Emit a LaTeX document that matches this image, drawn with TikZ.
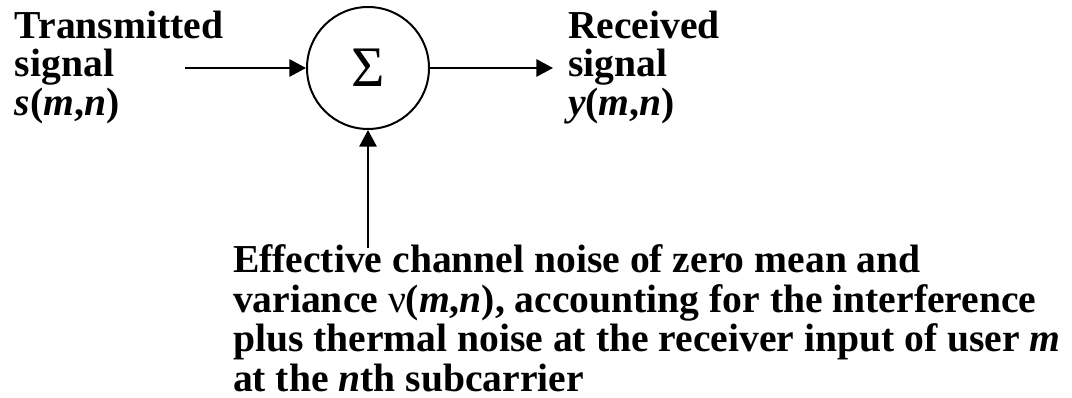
\documentclass[tikz,border=0pt]{standalone}
\usepackage{fontspec}
\setmainfont{Liberation Serif}
\usepackage{tikz}
\usetikzlibrary{positioning,arrows.meta}

\begin{document}
\begin{tikzpicture}[x=0.75pt,y=0.75pt,
  line width=1.5pt,
  every node/.style={font=\bfseries\fontsize{29.7}{28.9}\selectfont},
  adder/.style={circle,draw,minimum size=91.5pt,inner sep=0pt},
  sigtext/.style={align=left,inner sep=0pt,anchor=north west},
  sigarrow/.style={-{Triangle[length=12.5pt,width=13pt]}}]
  \useasboundingbox (0,0) rectangle (1072,398);
  \node[adder] (sum) at (368,330) {\fontsize{43}{43}\mdseries\selectfont Σ};
  \node[sigtext] (tx) at (14,388) {Transmitted\\signal\\\textit{s}(\textit{m},\textit{n})};
  \node[sigtext] (rx) at (567,388) {Received\\signal\\\textit{y}(\textit{m},\textit{n})};
  \node[sigtext,font=\bfseries\fontsize{29.7}{29.6}\selectfont] (nz) at (232,154)
    {Effective channel noise of zero mean and\\
     variance {\mdseries ν}(\textit{m},\textit{n}), accounting for the interference\\
     plus thermal noise at the receiver input of user \textit{m}\\
     at the \textit{n}th subcarrier};
  \coordinate (txend) at (185,330);
  \coordinate (rxend) at (553,330);
  \coordinate (nzend) at (368,150);
  \draw[sigarrow] (txend) -- (sum);
  \draw[sigarrow] (sum) -- (rxend);
  \draw[sigarrow] (nzend) -- (sum);
\end{tikzpicture}
\end{document}
